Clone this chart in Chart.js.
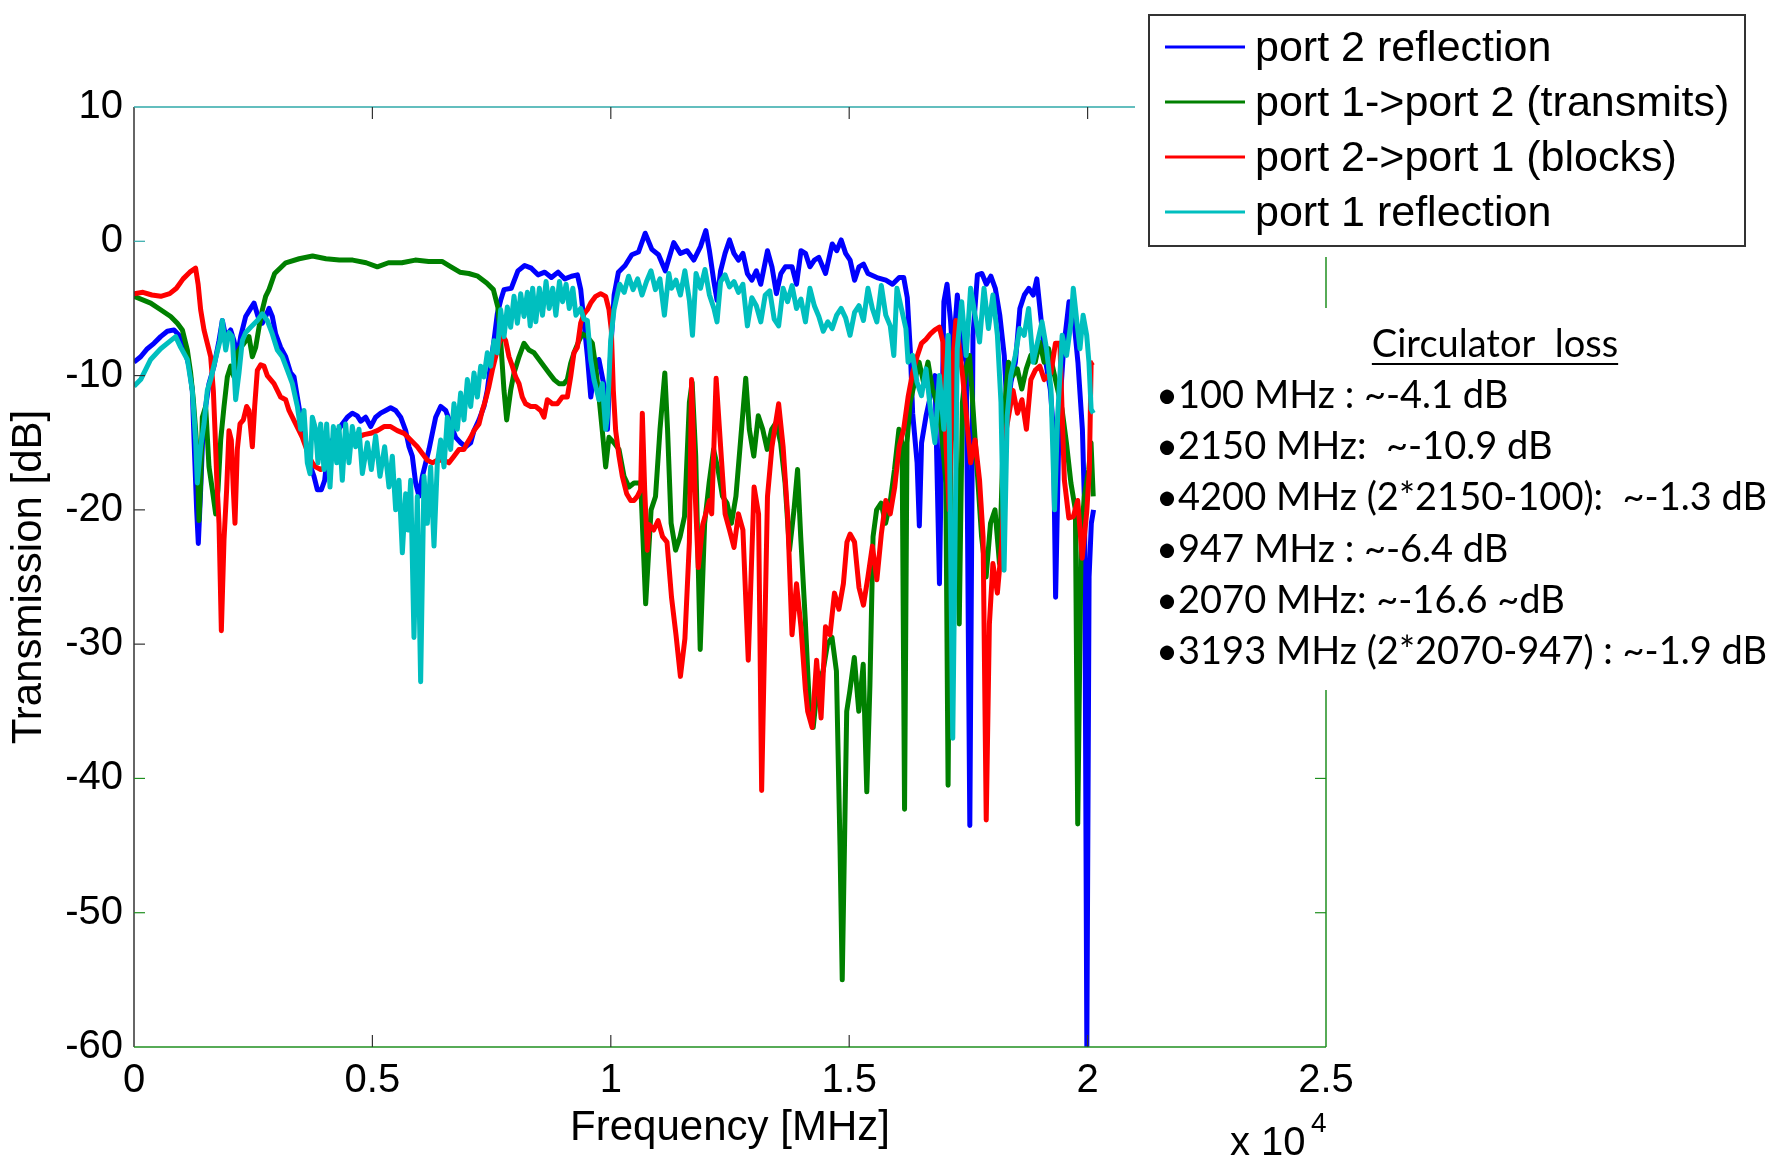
<!DOCTYPE html>
<html>
<head>
<meta charset="utf-8">
<script src="https://cdn.jsdelivr.net/npm/chart.js@4.4.0/dist/chart.umd.min.js"></script>
<style>
  html, body { margin: 0; padding: 0; background: #fff; }
  #wrap { width: 1783px; height: 1160px; }
</style>
</head>
<body>
<div id="wrap"><canvas id="myLineChart" width="1783" height="1160"></canvas></div>
<script>
// frequency in MHz, level in dB
var freqP2Refl = [0,140,280,419,559,699,839,944,1049,1154,
  1223,1272,1314,1349,1398,1447,1503,1573,1678,1783,
  1853,1923,2027,2097,2167,2237,2342,2447,2517,2601,
  2692,2761,2831,2901,2971,3076,3181,3286,3356,3426,
  3496,3565,3635,3705,3775,3845,3929,3999,4055,4125,
  4194,4278,4369,4474,4579,4684,4754,4859,4964,5068,
  5173,5278,5383,5488,5593,5698,5768,5837,5907,5977,
  6047,6117,6187,6257,6327,6432,6537,6641,6746,6851,
  6956,7061,7131,7236,7340,7410,7480,7550,7620,7690,
  7760,7912,8052,8193,8333,8473,8614,8754,8895,9035,
  9176,9300,9370,9440,9510,9580,9650,9750,9860,9930,
  10000,10070,10159,10300,10440,10581,10721,10861,11001,11142,
  11320,11460,11601,11741,11881,11993,12068,12162,12228,12303,
  12396,12490,12583,12677,12771,12864,12958,13052,13145,13286,
  13380,13474,13567,13661,13802,13895,13989,14083,14176,14270,
  14363,14504,14644,14738,14832,14925,15019,15113,15206,15300,
  15393,15581,15768,15909,16049,16143,16218,16284,16331,16424,
  16471,16518,16612,16705,16799,16893,16986,17052,17127,17174,
  17268,17362,17455,17530,17596,17689,17783,17877,17971,18064,
  18158,18252,18317,18392,18486,18580,18673,18767,18861,18936,
  19029,19123,19217,19282,19329,19404,19497,19610,19703,19797,
  19891,19938,19984,20031,20078,20125];
var dbP2Refl = [-9.0,-8.6,-8.0,-7.6,-7.1,-6.7,-6.6,-7.0,-7.9,-9.3,
  -11.1,-16.0,-20.0,-22.5,-18.5,-14.1,-12.3,-10.6,-9.3,-7.4,
  -5.9,-7.1,-6.6,-7.4,-8.6,-7.1,-5.6,-5.0,-4.6,-5.6,
  -6.1,-5.6,-5.0,-5.6,-6.9,-7.9,-8.6,-9.8,-10.1,-11.6,
  -13.1,-14.3,-15.5,-16.8,-17.5,-18.5,-18.5,-17.8,-16.0,-15.0,
  -14.6,-14.1,-13.6,-13.1,-12.8,-13.0,-13.4,-13.1,-13.8,-13.1,
  -12.8,-12.6,-12.4,-12.6,-13.1,-14.1,-15.3,-16.0,-18.0,-19.0,
  -17.5,-16.5,-15.5,-14.3,-13.1,-12.3,-12.6,-13.6,-14.6,-15.0,
  -15.3,-15.0,-14.1,-13.3,-12.3,-11.1,-9.1,-7.4,-5.4,-4.4,
  -3.6,-3.5,-2.2,-1.8,-2.0,-2.5,-2.3,-2.7,-2.3,-2.8,
  -2.6,-2.5,-3.6,-6.1,-8.6,-11.6,-9.8,-8.8,-10.8,-14.0,
  -8.0,-4.0,-2.3,-1.8,-1.0,-0.8,0.6,-0.6,-1.0,-2.2,
  -0.1,-0.9,-0.7,-1.4,-0.4,0.8,-0.7,-3.0,-4.4,-2.2,
  -0.9,0.1,-0.9,-1.4,-0.9,-2.4,-2.9,-2.2,-3.2,-0.7,
  -1.9,-3.9,-2.4,-1.9,-1.9,-3.2,-0.7,-0.9,-1.9,-1.4,
  -1.2,-2.4,-0.2,-0.7,0.1,-0.9,-1.4,-2.9,-1.9,-1.7,
  -2.4,-2.7,-2.9,-3.2,-2.7,-2.7,-4.2,-8.3,-12.8,-16.5,
  -21.2,-15.0,-13.0,-11.5,-10.0,-25.5,-4.5,-3.2,-6.0,-8.5,
  -4.0,-8.0,-9.0,-43.5,-7.0,-2.5,-2.4,-3.2,-2.6,-3.5,
  -5.5,-8.5,-13.0,-10.5,-9.0,-5.0,-4.0,-3.5,-4.0,-2.8,
  -6.0,-9.0,-11.0,-14.0,-26.5,-13.0,-8.0,-4.5,-5.5,-9.0,
  -14.0,-20.0,-60.0,-25.0,-21.0,-20.0];

var freqTransmit = [0,350,559,769,909,1014,1119,1188,1244,1293,
  1328,1363,1398,1433,1503,1573,1643,1713,1762,1818,
  1888,1957,2027,2097,2167,2237,2307,2412,2482,2552,
  2622,2692,2761,2831,2949,3183,3464,3745,4026,4307,
  4588,4869,5103,5337,5618,5899,6180,6460,6648,6835,
  7022,7210,7397,7537,7631,7690,7760,7816,7900,7970,
  8075,8179,8284,8389,8494,8599,8704,8809,8914,9018,
  9088,9158,9228,9333,9403,9508,9613,9682,9752,9822,
  9892,9962,10067,10172,10277,10382,10487,10627,10731,
  10845,10938,11032,11133,11190,11265,11359,11453,11546,11648,
  11706,11781,11875,11968,12062,12156,12249,12343,12437,12530,
  12624,12718,12830,12905,12999,13093,13186,13280,13374,13467,
  13561,13655,13748,13842,13917,13983,14076,14170,14245,14339,
  14451,14545,14639,14732,14807,14854,14901,14948,15013,15107,
  15201,15294,15369,15435,15500,15575,15669,15763,15856,15950,
  16043,16109,16161,16212,16278,16372,16465,16559,16653,16746,
  16840,16934,17027,17074,17130,17215,17308,17374,17449,17524,
  17589,17683,17777,17871,17964,18058,18152,18245,18339,18433,
  18526,18620,18714,18807,18901,18995,19088,19182,19276,19369,
  19463,19556,19650,19744,19793,19866,19931,20025,20072,20118];
var dbTransmit = [-4.1,-4.6,-5.1,-5.6,-6.1,-6.6,-8.1,-9.8,-11.8,-14.1,
  -16.0,-20.8,-18.0,-13.1,-12.3,-16.8,-18.5,-20.3,-18.5,-14.8,
  -12.3,-10.1,-9.3,-10.1,-8.3,-7.9,-7.6,-7.1,-8.6,-7.9,
  -6.4,-5.1,-4.1,-3.6,-2.4,-1.6,-1.3,-1.1,-1.3,-1.4,
  -1.4,-1.6,-1.9,-1.6,-1.6,-1.4,-1.5,-1.5,-1.9,-2.3,
  -2.4,-2.6,-3.1,-3.6,-4.9,-7.4,-11.1,-13.3,-11.1,-9.8,
  -8.6,-7.6,-8.1,-8.3,-8.8,-9.3,-9.8,-10.3,-10.6,-10.6,
  -10.3,-9.1,-8.3,-7.4,-6.9,-7.1,-7.6,-9.3,-11.6,-14.1,
  -16.8,-14.6,-15.0,-15.5,-17.5,-18.3,-18.0,-18.0,-27.0,
  -20.0,-19.0,-14.0,-9.8,-14.0,-21.0,-23.0,-22.0,-20.5,-12.0,
  -10.5,-16.0,-30.4,-21.0,-18.0,-15.5,-17.0,-19.0,-19.5,-21.0,
  -19.0,-15.0,-10.2,-14.0,-16.0,-13.0,-14.0,-15.5,-14.0,-13.5,
  -15.0,-18.0,-23.0,-20.0,-17.0,-22.0,-28.0,-35.0,-36.2,-33.0,
  -32.0,-30.0,-29.5,-32.0,-45.0,-55.0,-45.0,-35.0,-33.5,-31.0,
  -35.0,-31.5,-41.0,-33.0,-22.0,-20.0,-19.5,-21.0,-19.5,-17.0,
  -14.0,-15.0,-42.3,-15.0,-12.0,-10.5,-9.0,-10.5,-9.0,-11.0,
  -12.0,-14.0,-18.0,-40.5,-15.0,-10.0,-28.5,-12.0,-9.5,-8.5,
  -12.0,-17.0,-22.0,-25.0,-21.0,-20.0,-24.0,-13.0,-9.0,-10.0,
  -9.5,-11.0,-9.5,-8.5,-9.0,-7.5,-9.0,-8.0,-9.5,-11.0,
  -12.5,-15.0,-18.0,-20.0,-43.4,-22.0,-19.0,-17.0,-15.0,-19.0];

var freqBlock = [0,187,375,562,749,890,1030,1170,1292,1345,
  1398,1468,1538,1608,1664,1699,1734,1783,1832,1888,
  1943,1992,2041,2083,2118,2167,2223,2293,2363,2412,
  2482,2531,2587,2657,2726,2796,2866,2936,3006,3076,
  3181,3251,3321,3391,3461,3530,3600,3670,3740,3810,
  3915,4020,4125,4265,4404,4544,4684,4824,4964,5103,
  5243,5383,5523,5663,5803,5942,6047,6152,6257,6362,
  6502,6606,6711,6816,6921,6991,7061,7131,7236,7305,
  7375,7445,7515,7585,7655,7725,7795,7865,7935,8005,
  8075,8144,8214,8319,8424,8529,8599,8669,8774,8879,
  8983,9088,9158,9228,9298,9368,9438,9508,9578,9683,
  9787,9892,9962,10011,10053,10102,10172,10242,10333,10417,
  10487,10557,10627,10661,10711,10766,
  10805,10899,10992,11086,11179,11273,11367,11460,11554,11648,
  11694,11760,11835,11928,12069,12116,12209,12303,12397,12490,
  12584,12677,12771,12883,13005,13099,13164,13286,13380,13520,
  13614,13707,13801,13895,13988,14082,14129,14222,14316,14410,
  14503,14597,14691,14784,14878,14953,15018,15112,15206,15299,
  15393,15486,15580,15674,15767,15861,15955,16048,16142,16235,
  16329,16423,16516,16610,16704,16797,16891,16966,17031,17097,
  17172,17237,17312,17378,17453,17546,17640,17734,17808,17874,
  17940,18014,18108,18202,18295,18436,18529,18623,18717,18810,
  18904,18998,19091,19232,19325,19419,19513,19606,19700,19793,
  19887,19981,20037,20074,20121];
var dbBlock = [-3.9,-3.8,-4.0,-4.1,-3.9,-3.5,-2.8,-2.3,-2.0,-3.2,
  -5.1,-6.6,-7.6,-8.6,-11.1,-14.1,-17.5,-21.0,-29.0,-22.2,
  -18.5,-14.1,-14.8,-18.5,-21.0,-15.5,-13.6,-13.3,-12.3,-12.6,
  -15.3,-12.3,-9.6,-9.2,-9.3,-10.0,-10.3,-10.6,-11.1,-11.6,
  -11.8,-12.6,-13.1,-13.6,-14.1,-14.6,-15.3,-16.0,-16.5,-16.8,
  -17.0,-16.8,-16.3,-15.8,-15.3,-14.8,-14.6,-14.4,-14.3,-14.1,
  -13.8,-13.8,-14.1,-14.3,-14.8,-15.3,-15.8,-16.3,-16.5,-16.3,
  -16.3,-16.5,-16.0,-15.5,-15.5,-15.0,-14.6,-14.1,-13.6,-12.6,
  -11.8,-10.8,-9.6,-8.6,-7.6,-7.0,-7.4,-8.6,-9.3,-10.1,
  -10.6,-11.6,-12.1,-12.3,-12.3,-12.6,-13.1,-11.8,-12.1,-12.1,
  -11.6,-11.6,-10.1,-8.3,-7.9,-6.1,-5.4,-5.1,-4.6,-4.1,
  -3.9,-4.1,-5.1,-6.6,-11.1,-14.1,-16.0,-17.5,-18.8,-19.3,
  -19.3,-19.0,-18.5,-12.8,-18.5,-23.0,
  -21.1,-21.5,-20.8,-22.0,-22.4,-26.5,-29.3,-32.4,-29.6,-22.4,
  -10.3,-18.0,-24.3,-21.1,-19.3,-20.3,-10.2,-15.3,-20.3,-21.5,
  -22.8,-20.3,-21.5,-31.2,-18.3,-20.3,-40.9,-19.0,-15.3,-12.1,
  -15.3,-20.3,-29.3,-25.5,-28.7,-33.4,-35.0,-36.2,-31.2,-35.5,
  -28.7,-29.3,-26.2,-27.4,-25.5,-22.4,-21.8,-22.4,-25.8,-27.1,
  -25.0,-22.7,-25.2,-21.8,-19.3,-20.3,-18.3,-15.3,-14.0,-11.6,
  -9.8,-8.6,-7.6,-7.3,-6.9,-6.6,-6.4,-7.5,-15.3,-20.0,
  -9.0,-5.9,-8.0,-10.0,-12.8,-16.5,-14.8,-17.8,-22.0,-43.1,
  -28.5,-24.0,-26.2,-22.4,-14.0,-11.1,-12.8,-11.8,-14.0,-10.3,
  -9.6,-9.3,-10.3,-9.8,-7.6,-7.6,-17.8,-20.6,-20.5,-19.3,
  -23.6,-20.2,-17.0,-9.1,-9.0];

var freqP1Refl = [0,140,350,559,769,874,979,1119,1223,1293,
  1328,1398,1468,1538,1608,1713,1804,1853,1923,1992,
  2062,2132,2202,2272,2342,2447,2587,2692,2796,2901,
  3006,3111,3216,3321,3426,3496,3565,3635,3691,3740,
  3810,3859,3915,3985,4041,4111,4181,4251,4299,4369,
  4439,4509,4579,4649,4719,4789,4894,4978,5068,5159,
  5257,5348,5418,5488,5558,5628,5698,5747,5803,5872,
  5942,6012,6082,6152,6222,6292,6362,6432,6502,6572,
  6641,6711,6781,6851,6921,6991,7061,7131,7201,7271,
  7340,7410,7480,7550,7620,7690,7760,7830,7900,7970,
  8040,8110,8180,8250,8310,8361,8427,8502,8567,8642,8708,
  8782,8848,8923,8988,9063,9129,9204,9269,9368,9438,
  9508,9578,9647,9752,9822,9892,9927,9997,10067,10187,
  10281,10374,10468,10562,10655,10749,10843,10936,11030,11124,
  11217,
  11273,11367,11460,11554,11648,11713,11788,11882,11975,12069,
  12163,12228,12303,12397,12490,12584,12677,12771,12865,12958,
  13052,13146,13239,13333,13427,13520,13614,13707,13801,13895,
  13988,14082,14176,14269,14363,14456,14550,14644,14737,14831,
  14925,15018,15112,15206,15299,15393,15486,15580,15674,15767,
  15861,15936,16001,16095,16189,16235,16329,16423,16516,16610,
  16704,16797,16891,16985,17078,17172,17266,17359,17453,17546,
  17640,17734,17827,17921,18014,18108,18183,18248,18314,18389,
  18483,18576,18670,18763,18857,18951,19044,19138,19232,19307,
  19372,19466,19559,19653,19700,19775,19840,19906,19981,20028,
  20074,20121];
var dbP1Refl = [-10.8,-10.3,-8.8,-8.0,-7.4,-7.1,-7.9,-8.8,-11.1,-14.8,
  -18.0,-15.3,-13.6,-11.1,-10.3,-8.7,-7.4,-5.9,-8.1,-6.8,
  -7.1,-11.8,-9.8,-7.4,-6.8,-6.4,-5.9,-5.4,-5.9,-6.9,
  -8.1,-8.6,-9.6,-10.6,-12.3,-14.0,-12.6,-16.5,-17.3,-13.1,
  -14.0,-16.5,-13.6,-17.0,-13.6,-18.3,-13.8,-16.5,-13.8,-17.8,
  -13.6,-16.5,-13.8,-15.3,-14.0,-17.3,-15.0,-17.0,-14.5,-17.5,
  -15.3,-18.3,-16.0,-20.0,-17.8,-23.2,-18.8,-21.5,-17.8,-29.5,
  -19.0,-32.8,-17.5,-21.0,-16.8,-22.7,-16.5,-14.8,-16.8,-13.1,
  -15.5,-12.1,-14.0,-11.3,-13.3,-10.3,-12.3,-9.8,-11.6,-9.3,
  -10.1,-8.3,-9.3,-7.4,-8.3,-5.1,-7.1,-4.9,-6.4,-4.1,
  -6.1,-3.9,-5.6,-3.8,-6.3,-3.5,-6.0,-3.5,-5.5,-3.0,-5.0,
  -3.5,-5.5,-3.0,-4.5,-3.2,-5.0,-3.5,-5.5,-5.0,-5.8,
  -5.9,-8.8,-10.3,-11.8,-10.6,-14.0,-13.1,-7.4,-5.1,-3.2,
  -3.8,-2.6,-3.6,-2.8,-4.0,-3.0,-2.2,-3.6,-2.8,-5.5,
  -2.4,
  -3.5,-2.9,-4.0,-2.2,-4.4,-7.0,-2.4,-3.5,-2.1,-4.0,
  -5.0,-6.0,-3.0,-2.5,-3.4,-3.0,-3.8,-3.2,-6.3,-4.2,
  -4.8,-6.0,-4.0,-3.7,-5.8,-6.3,-3.5,-4.5,-3.3,-5.0,
  -4.3,-6.0,-3.5,-4.8,-5.6,-6.7,-6.0,-6.5,-5.5,-5.0,
  -5.7,-7.0,-5.3,-4.8,-5.9,-3.5,-5.0,-6.0,-3.3,-5.5,
  -6.3,-8.5,-3.5,-5.0,-6.5,-9.0,-8.5,-10.5,-11.5,-9.5,
  -12.5,-15.0,-10.0,-14.0,-7.0,-37.0,-8.0,-4.5,-8.5,-3.5,
  -5.5,-7.5,-3.5,-6.5,-4.0,-7.0,-12.0,-24.5,-13.0,-10.0,
  -8.5,-6.5,-7.0,-5.0,-9.0,-7.5,-6.0,-8.0,-11.0,-20.0,
  -13.0,-7.0,-8.5,-6.0,-3.5,-6.0,-8.0,-5.5,-7.0,-9.0,
  -12.5,-12.8];

var seriesNames = ['port 2 reflection', 'port 1->port 2 (transmits)', 'port 2->port 1 (blocks)', 'port 1 reflection'];
var seriesColors = ['#0000ff', '#008000', '#ff0000', '#00bfbf'];
var xTickLabels = ['0', '0.5', '1', '1.5', '2', '2.5'];
var lossTitle = 'Circulator  loss';
var lossLines = [
  '\u2022100 MHz : ~-4.1 dB',
  '\u20222150 MHz:  ~-10.9 dB',
  '\u20224200 MHz (2*2150-100):  ~-1.3 dB',
  '\u2022947 MHz : ~-6.4 dB',
  '\u20222070 MHz: ~-16.6 ~dB',
  '\u20223193 MHz (2*2070-947) : ~-1.9 dB'
];

var ARIAL = "'Liberation Sans', Arial, sans-serif";
var CALIBRI = "Lato, 'Open Sans', sans-serif";

function toPoints(f, d) {
  var pts = [];
  for (var i = 0; i < f.length; i++) pts.push({x: f[i], y: d[i]});
  return pts;
}

// frame, inward ticks, legend box and the loss notes
var extras = {
  id: 'extras',
  afterDraw: function(chart) {
    var ctx = chart.ctx, a = chart.chartArea;
    var xs = chart.scales.x, ys = chart.scales.y;
    ctx.save();
    function seg(x1, y1, x2, y2, col, w) {
      ctx.strokeStyle = col; ctx.lineWidth = w;
      ctx.beginPath(); ctx.moveTo(x1, y1); ctx.lineTo(x2, y2); ctx.stroke();
    }
    seg(a.left, a.top, a.left, a.bottom, '#333', 1.5);
    seg(a.left, a.top, a.right, a.top, '#2fa9a9', 1.5);
    seg(a.left, a.bottom, a.right, a.bottom, '#1f8f1f', 1.5);
    seg(a.right, a.top, a.right, a.bottom, '#1f8f1f', 1.5);
    for (var v = 5000; v < 25000; v += 5000) {
      var px = xs.getPixelForValue(v);
      seg(px, a.bottom, px, a.bottom - 12, '#333', 1.2);
      seg(px, a.top, px, a.top + 12, '#333', 1.2);
    }
    for (var t = -50; t <= 0; t += 10) {
      var py = ys.getPixelForValue(t);
      var c = t >= 0 ? '#2fa9a9' : (t <= -40 ? '#1f8f1f' : '#333');
      seg(a.left, py, a.left + 11, py, c, 1.2);
      seg(a.right, py, a.right - 11, py, '#1f8f1f', 1.2);
    }

    // areas hidden behind legend and notes
    ctx.fillStyle = '#fff';
    ctx.fillRect(1135, 0, 648, 257);
    ctx.fillRect(1140, 308, 643, 382);

    // legend
    ctx.strokeStyle = '#333'; ctx.lineWidth = 2;
    ctx.strokeRect(1149, 15, 596, 231);
    ctx.font = '43px ' + ARIAL;
    ctx.textBaseline = 'middle';
    ctx.textAlign = 'left';
    chart.data.datasets.forEach(function(ds, i) {
      var ry = 47 + i * 55;
      seg(1165, ry, 1245, ry, ds.borderColor, 3);
      ctx.fillStyle = '#000';
      ctx.fillText(ds.label, 1255, ry + 2);
    });

    // circulator loss notes
    ctx.fillStyle = '#000';
    ctx.textBaseline = 'alphabetic';
    ctx.font = '38px ' + CALIBRI;
    ctx.textAlign = 'center';
    ctx.fillText(lossTitle, 1495, 357);
    var tw = ctx.measureText(lossTitle).width;
    ctx.fillRect(1495 - tw / 2, 363, tw, 2);
    ctx.textAlign = 'left';
    lossLines.forEach(function(s, i) {
      ctx.fillText(s, 1156, 408 + i * 51.2);
    });

    // exponent of the x axis
    ctx.font = '40px ' + ARIAL;
    ctx.fillText('x 10', 1230, 1155);
    ctx.font = '28px ' + ARIAL;
    ctx.fillText('4', 1311, 1132);
    ctx.restore();
  }
};

var data = {
  datasets: [
    {label: seriesNames[0], data: toPoints(freqP2Refl, dbP2Refl), borderColor: seriesColors[0], borderWidth: 5, order: 3},
    {label: seriesNames[1], data: toPoints(freqTransmit, dbTransmit), borderColor: seriesColors[1], borderWidth: 5, order: 2},
    {label: seriesNames[2], data: toPoints(freqBlock, dbBlock), borderColor: seriesColors[2], borderWidth: 5, order: 1},
    {label: seriesNames[3], data: toPoints(freqP1Refl, dbP1Refl), borderColor: seriesColors[3], borderWidth: 5, order: 0}
  ]
};

var ctx = document.getElementById('myLineChart').getContext('2d');
var myLine = new Chart(ctx, {
  type: 'line',
  data: data,
  plugins: [extras],
  options: {
    responsive: false,
    animation: false,
    devicePixelRatio: 1,
    layout: {padding: {top: 107, right: 457, left: 0, bottom: 0}},
    elements: {
      point: {radius: 0},
      line: {tension: 0, fill: false, borderJoinStyle: 'round'}
    },
    plugins: {legend: {display: false}, tooltip: {enabled: false}},
    scales: {
      x: {
        type: 'linear', min: 0, max: 25000,
        grid: {display: false, drawTicks: false, tickLength: 0}, border: {display: false},
        ticks: {
          stepSize: 5000, color: '#000', padding: 10,
          font: {family: ARIAL, size: 40},
          callback: function(v, i) { return xTickLabels[i]; }
        },
        title: {display: true, text: 'Frequency [MHz]', color: '#000',
          font: {family: ARIAL, size: 42}, padding: {top: 4, bottom: 6}},
        afterFit: function(s) { s.height = 113; }
      },
      y: {
        min: -60, max: 10,
        grid: {display: false, drawTicks: false, tickLength: 0}, border: {display: false},
        ticks: {stepSize: 10, color: '#000', padding: 11, font: {family: ARIAL, size: 40}},
        title: {display: true, text: 'Transmission [dB]', color: '#000',
          font: {family: ARIAL, size: 42}, padding: {top: 4, bottom: 4}},
        afterFit: function(s) { s.width = 134; }
      }
    }
  }
});
</script>
</body>
</html>
